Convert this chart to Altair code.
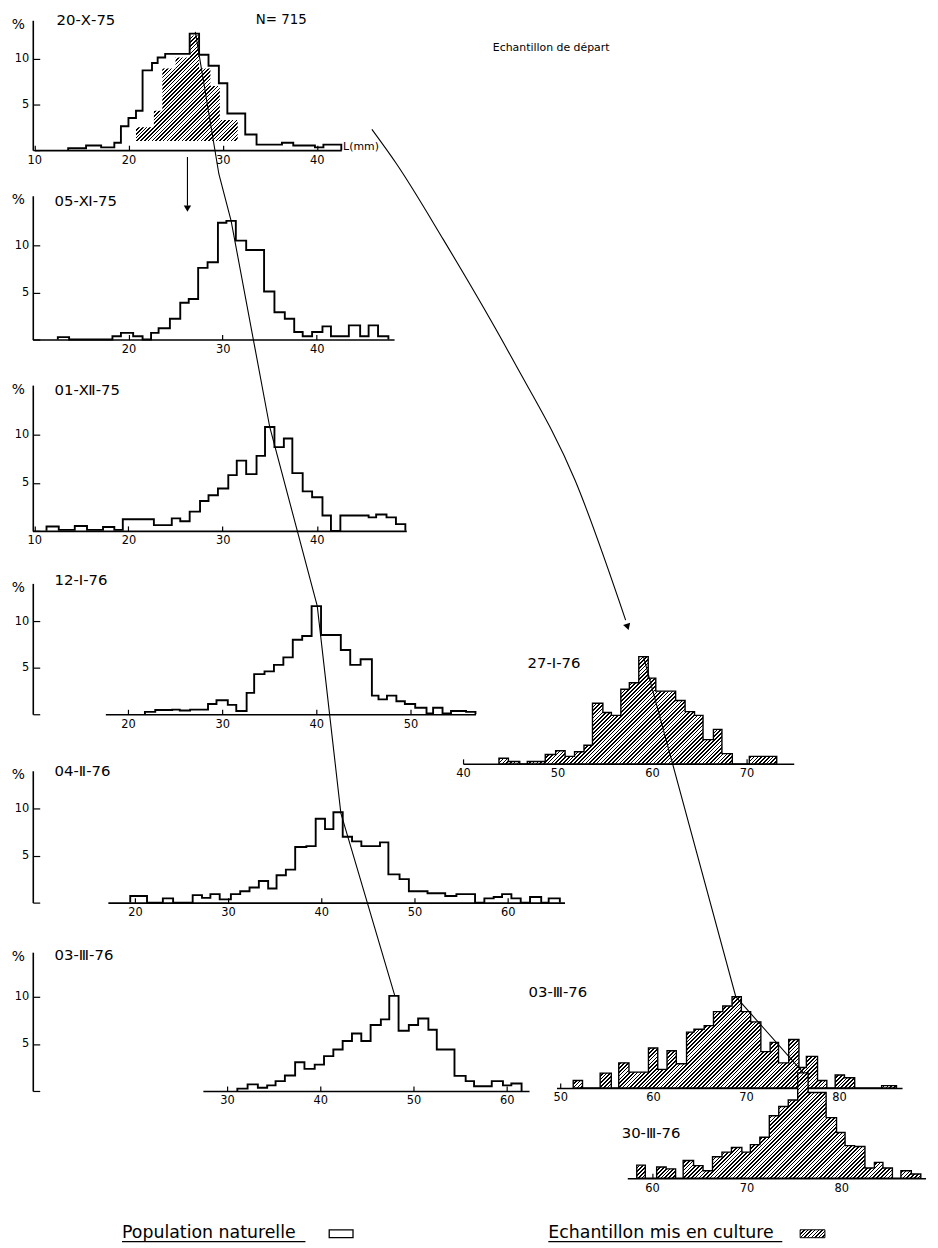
import math
import altair as alt
import pandas as pd

FONT = "DejaVu Sans"

# ---------------- data (L in mm, frequency in %) ----------------
# 20-X-75, population naturelle (N = 715)
oct20_edges = [13.6, 15.5, 17.1, 18.5, 19.2, 20.0, 20.8, 21.5, 22.5, 23.1, 23.9, 26.5, 27.5,
               28.5, 29.6, 30.5, 32.4, 33.6, 36.3, 37.5, 39.8, 40.7, 42.6]
oct20_pct = [0.2, 0.5, 0.3, 0.8, 2.6, 3.5, 4.3, 8.7, 9.5, 10.1, 10.5, 12.7, 10.4,
             9.2, 7.3, 4.0, 1.7, 0.6, 0.8, 0.5, 0.3, 0.6]
# 20-X-75, echantillon de depart (hatched block, drawn from 1 %)
start_edges = [20.8, 22.7, 23.6, 25.0, 26.5, 27.5, 28.7, 29.7, 31.6]
start_pct = [2.5, 4.3, 8.9, 10.1, 12.5, 8.9, 7.0, 3.3]
start_floor = 1.0

# 05-XI-75
nov05_edges = [12.5, 13.7, 18.3, 19.2, 20.5, 21.5, 22.4, 23.2, 24.4, 25.5, 26.4, 27.4, 28.4,
               29.5, 30.4, 31.4, 32.5, 34.4, 35.5, 36.6, 37.6, 38.5, 39.5, 40.6, 41.5, 43.4,
               44.6, 45.5, 46.5, 47.6]
nov05_pct = [0.25, 0, 0.35, 0.7, 0.35, 0, 0.7, 1.2, 2.2, 3.9, 4.3, 7.6, 8.2, 12.4, 12.6,
             10.5, 9.5, 5.1, 2.9, 2.2, 0.8, 0.35, 0.8, 1.4, 0.35, 1.5, 0.35, 1.5, 0.35]

# 01-XII-75
dec01_edges = [11.3, 12.6, 14.3, 15.6, 17.3, 18.5, 19.4, 22.7, 24.6, 25.5, 26.5, 27.6, 28.5,
               29.5, 30.6, 31.5, 32.5, 33.6, 34.5, 35.5, 36.5, 37.4, 38.5, 39.5, 40.6, 41.5,
               42.5, 45.5, 46.3, 47.4, 48.4, 49.4]
dec01_pct = [0.45, 0.1, 0.5, 0.1, 0.4, 0.1, 1.2, 0.6, 1.3, 1.0, 2.0, 3.1, 3.7, 4.4, 5.8,
             7.3, 5.9, 7.8, 10.8, 8.7, 9.6, 6.0, 4.1, 3.5, 1.6, 0, 1.6, 1.4, 1.7, 1.4, 0.7]

# 12-I-76
jan12_edges = [21.8, 22.9, 24.7, 25.5, 26.6, 28.5, 29.4, 30.6, 31.5, 32.6, 33.4, 34.5, 35.5,
               36.5, 37.5, 38.5, 39.5, 40.5, 42.6, 43.6, 44.7, 45.9, 46.6, 47.5, 48.5, 49.4,
               50.5, 51.7, 52.4, 53.4, 54.3, 55.9, 56.9]
jan12_pct = [0.25, 0.45, 0.5, 0.4, 0.5, 1.1, 1.5, 1.0, 0.35, 2.3, 4.3, 4.6, 5.3, 6.1, 8.0,
             8.4, 11.6, 8.5, 6.9, 5.3, 5.9, 2.0, 1.6, 2.0, 1.4, 1.1, 0.7, 0.1, 0.7, 0.1,
             0.35, 0.25]

# 04-II-76
feb04_edges = [19.5, 21.3, 23.0, 24.1, 26.2, 27.2, 28.1, 29.1, 30.3, 31.3, 32.3, 33.3, 34.3,
               35.2, 36.2, 37.2, 38.4, 39.4, 40.4, 41.3, 42.3, 43.3, 44.3, 46.3, 47.2, 48.4,
               49.4, 51.4, 53.3, 54.5, 56.5, 57.5, 58.5, 59.4, 60.4, 61.4, 62.4, 63.6, 64.4,
               65.6]
feb04_pct = [0.7, 0, 0.45, 0, 0.8, 0.5, 0.9, 0.35, 0.9, 1.2, 1.6, 2.3, 1.5, 2.9, 3.5, 5.9,
             6.0, 8.9, 7.8, 9.6, 7.0, 6.5, 6.0, 6.4, 3.0, 2.5, 1.2, 1.0, 0.7, 0.9, 0, 0.45,
             0.6, 0.9, 0.45, 0, 0.6, 0, 0.45]

# 03-III-76 (population naturelle)
mar03_edges = [31.1, 32.2, 33.3, 34.3, 35.2, 36.2, 37.3, 38.3, 39.4, 40.4, 41.4, 42.4, 43.4,
               44.4, 45.4, 46.5, 47.4, 48.4, 49.5, 50.5, 51.6, 52.5, 54.4, 55.6, 56.5, 58.4,
               59.6, 60.5, 61.6]
mar03_pct = [0.25, 0.7, 0.35, 0.6, 1.05, 1.65, 3.05, 2.35, 2.8, 3.7, 4.4, 5.3, 6.1, 5.3,
             7.0, 7.6, 10.1, 6.4, 7.0, 7.7, 6.5, 4.4, 1.6, 1.05, 0.5, 1.05, 0.6, 0.8]

# echantillon mis en culture
cjan27_edges = [43.8, 44.8, 46.0, 46.8, 48.7, 49.8, 50.8, 51.8, 52.8, 53.7, 54.8, 55.7, 56.7,
                57.6, 58.6, 59.6, 60.4, 62.5, 63.5, 64.5, 65.4, 66.5, 67.4, 68.5, 70.3, 73.2]
cjan27_pct = [0.6, 0.25, 0, 0.25, 1.0, 1.4, 0.8, 1.3, 2.0, 6.5, 5.5, 5.2, 8.0, 8.7, 11.5,
              9.2, 7.8, 6.8, 5.6, 5.2, 2.6, 3.7, 1.1, 0, 0.8]

cmar03_edges = [51.4, 52.4, 54.3, 55.5, 56.3, 57.4, 59.5, 60.5, 61.5, 62.5, 63.6, 64.4, 65.5,
                66.5, 67.5, 68.5, 69.5, 70.5, 71.6, 72.6, 73.5, 74.6, 75.7, 76.5, 77.7, 78.7,
                79.6, 80.6, 81.7, 84.6, 86.2]
cmar03_pct = [0.8, 0, 1.6, 0, 2.7, 1.7, 4.3, 2.0, 4.0, 2.6, 6.0, 6.3, 6.7, 8.2, 8.8, 9.8,
              8.2, 7.1, 3.9, 4.9, 2.7, 5.2, 2.2, 3.4, 0.8, 0, 1.4, 1.1, 0, 0.25]

cmar30_edges = [58.4, 59.3, 60.5, 61.5, 62.5, 63.3, 64.4, 65.4, 66.4, 67.4, 68.4, 69.5, 70.4,
                71.4, 72.4, 73.4, 74.4, 75.4, 76.5, 78.4, 79.5, 80.4, 81.4, 82.5, 83.5, 84.4,
                85.4, 86.3, 87.4, 88.4]
cmar30_pct = [1.4, 0, 1.2, 1.0, 0, 1.9, 1.35, 0.8, 2.3, 2.8, 3.3, 2.8, 3.6, 4.4, 6.7, 7.7,
              8.4, 11.3, 9.2, 6.5, 4.9, 3.5, 3.4, 1.1, 1.7, 1.1, 0, 0.8, 0.45]

# tick labels
ticks_p1 = [10, 20, 30, 40]
ticks_p2 = [20, 30, 40]
ticks_p3 = [10, 20, 30, 40]
ticks_p4 = [20, 30, 40, 50]
ticks_p5 = [20, 30, 40, 50, 60]
ticks_p6 = [30, 40, 50, 60]
ticks_rA = [40, 50, 60, 70]
ticks_rB = [50, 60, 70, 80]
ticks_rC = [60, 70, 80]
pct_ticks = [0, 5, 10]

dates = ["20-Ⅹ-75", "05-Ⅺ-75", "01-Ⅻ-75", "12-Ⅰ-76", "04-Ⅱ-76", "03-Ⅲ-76",
         "27-Ⅰ-76", "03-Ⅲ-76", "30-Ⅲ-76"]

# modal lines (panel, L mm, %)
growth_panel = ["p1", "p1", "p2", "p3", "p4", "p5", "p6"]
growth_mm = [27.1, 29.6, 30.9, 35.0, 40.1, 42.1, 48.0]
growth_pct = [12.9, -2.6, 12.6, 10.8, 11.6, 9.5, 10.1]
culture_panel = ["rA", "rB", "rC"]
culture_mm = [59.1, 68.9, 76.0]
culture_pct = [11.5, 9.8, 11.3]

# ---------------- layout (page pixels) ----------------
W, H = 930, 1240
MARGIN = 8


def P(v):
    return v - MARGIN


LAYOUT = {
    "p1": dict(xr=20, xp=129.5, pxmm=9.5, dom=(10.0, 42.6), base=146, pxpct=9.25, ytop=15, ticks=ticks_p1),
    "p2": dict(xr=20, xp=129.5, pxmm=9.5, dom=(9.8, 48.2), base=337, pxpct=9.5, ytop=192, ticks=ticks_p2),
    "p3": dict(xr=20, xp=129.5, pxmm=9.5, dom=(9.8, 49.5), base=530, pxpct=9.7, ytop=383, ticks=ticks_p3),
    "p4": dict(xr=20, xp=129.0, pxmm=9.5, dom=(17.6, 56.9), base=715, pxpct=9.4, ytop=583, ticks=ticks_p4),
    "p5": dict(xr=40, xp=324.0, pxmm=9.4, dom=(17.1, 66.1), base=905, pxpct=9.5, ytop=772, ticks=ticks_p5),
    "p6": dict(xr=40, xp=323.0, pxmm=9.4, dom=(27.4, 62.4), base=1095, pxpct=9.5, ytop=955, ticks=ticks_p6),
    "rA": dict(xr=40, xp=467.0, pxmm=9.53, dom=(40.0, 75.0), base=765, pxpct=9.4, ticks=ticks_rA),
    "rB": dict(xr=50, xp=565.0, pxmm=9.37, dom=(49.6, 86.8), base=1092, pxpct=9.4, ticks=ticks_rB),
    "rC": dict(xr=70, xp=753.0, pxmm=9.55, dom=(57.4, 88.9), base=1183, pxpct=9.4, ticks=ticks_rC),
}
YAXIS_X = 33


def px(k, mm):
    L = LAYOUT[k]
    return L["xp"] + L["pxmm"] * (mm - L["xr"])


def py(k, pct):
    L = LAYOUT[k]
    return L["base"] - L["pxpct"] * pct


def ymax(k):
    L = LAYOUT[k]
    return (L["base"] - L["ytop"]) / L["pxpct"] if "ytop" in L else 15.0


def xscale(k):
    d0, d1 = LAYOUT[k]["dom"]
    return alt.Scale(domain=[d0, d1], range=[P(px(k, d0)), P(px(k, d1))], nice=False, zero=False)


def yscale(k):
    m = ymax(k)
    return alt.Scale(domain=[0, m], range=[P(py(k, 0)), P(py(k, m))], nice=False, zero=False)


def xaxis(k):
    L = LAYOUT[k]
    return alt.Axis(orient="top", offset=-P(L["base"]), values=L["ticks"], format="d",
                    tickSize=5, tickWidth=1.2, tickColor="black",
                    domainWidth=1.6, domainColor="black",
                    labelPadding=-20, labelFontSize=11.5, labelFont=FONT, labelColor="black",
                    labelFlush=False, labelOverlap=False, labelBound=False, grid=False)


def yaxis(k):
    L = LAYOUT[k]
    return alt.Axis(orient="right", offset=P(YAXIS_X) - W, values=pct_ticks, format="d",
                    tickSize=7, tickWidth=1.2, tickColor="black",
                    domainWidth=1.6, domainColor="black",
                    labelPadding=-11, labelAlign="right", labelFontSize=11.5, labelFont=FONT,
                    labelColor="black", labelExpr="datum.value == 0 ? '' : datum.label",
                    labelFlush=False, labelOverlap=False, labelBound=False, grid=False,
                    title="%", titleAngle=0, titleX=-15, titleY=P(L["ytop"]) + 4,
                    titleAlign="center", titleBaseline="middle", titleFontSize=14,
                    titleFontWeight="normal", titleFont=FONT, titleColor="black")


def outline_df(edges, pct, floor=0.0):
    """vertices of the stepped outline (for a line mark, ordered by i)"""
    xs, ys = [edges[0]], [floor]
    for i, v in enumerate(pct):
        xs += [edges[i], edges[i + 1]]
        ys += [v, v]
    xs.append(edges[-1])
    ys.append(floor)
    return pd.DataFrame({"mm": xs, "pct": ys, "i": list(range(len(xs)))})


def step_df(edges, pct, floor=0.0):
    """one row per bin edge, for an area mark with step-after interpolation"""
    return pd.DataFrame({"mm": list(edges), "pct": list(pct) + [pct[-1]], "floor": floor})


def hatch(wpx, hpx, period=2.7, frac=0.42):
    n = max(1, int(round((wpx + hpx) / (math.sqrt(2) * period))))
    c = (1 / hpx + 1 / wpx) / (1 / hpx ** 2 + 1 / wpx ** 2)
    stops = []
    for j in range(n):
        a, b, e = j / n, (j + frac) / n, (j + 1) / n
        stops += [{"offset": round(a, 5), "color": "black"},
                  {"offset": round(b, 5), "color": "black"},
                  {"offset": round(b, 5), "color": "white"},
                  {"offset": round(e, 5), "color": "white"}]
    return {"gradient": "linear", "x1": 0, "y1": 0, "x2": c / hpx, "y2": c / wpx, "stops": stops}


layers = []

# hatched starting sample inside 20-X-75
k = "p1"
wpx = (start_edges[-1] - start_edges[0]) * LAYOUT[k]["pxmm"]
hpx = (max(start_pct) - start_floor) * LAYOUT[k]["pxpct"]
layers.append(
    alt.Chart(step_df(start_edges, start_pct, start_floor)).mark_area(
        fill=hatch(wpx, hpx), strokeWidth=0, interpolate="step-after").encode(
        x=alt.X("mm:Q", scale=xscale(k), axis=None),
        y=alt.Y("pct:Q", scale=yscale(k), axis=None),
        y2="floor:Q")
)

left = [("p1", oct20_edges, oct20_pct), ("p2", nov05_edges, nov05_pct),
        ("p3", dec01_edges, dec01_pct), ("p4", jan12_edges, jan12_pct),
        ("p5", feb04_edges, feb04_pct), ("p6", mar03_edges, mar03_pct)]
for k, e, v in left:
    layers.append(
        alt.Chart(outline_df(e, v)).mark_line(color="black", strokeWidth=1.9, strokeJoin="miter").encode(
            x=alt.X("mm:Q", scale=xscale(k), axis=xaxis(k), title=None),
            y=alt.Y("pct:Q", scale=yscale(k), axis=yaxis(k)),
            order="i:Q")
    )

right = [("rA", cjan27_edges, cjan27_pct), ("rB", cmar03_edges, cmar03_pct),
         ("rC", cmar30_edges, cmar30_pct)]
for k, e, v in right:
    wpx = (e[-1] - e[0]) * LAYOUT[k]["pxmm"]
    hpx = max(v) * LAYOUT[k]["pxpct"]
    layers.append(
        alt.Chart(step_df(e, v)).mark_area(
            fill=hatch(wpx, hpx), stroke="black", strokeWidth=1.4, strokeJoin="miter",
            interpolate="step-after").encode(
            x=alt.X("mm:Q", scale=xscale(k), axis=xaxis(k), title=None),
            y=alt.Y("pct:Q", scale=yscale(k), axis=None),
            y2="floor:Q")
    )

# ---------------- connectors and arrows ----------------
rows = []
for n, (k, mm, pc) in enumerate(zip(growth_panel, growth_mm, growth_pct)):
    rows.append(dict(id="growth", i=n, x=P(px(k, mm)), y=P(py(k, pc))))
for n, (k, mm, pc) in enumerate(zip(culture_panel, culture_mm, culture_pct)):
    rows.append(dict(id="culture", i=n, x=P(px(k, mm)), y=P(py(k, pc))))
rows.append(dict(id="drop", i=0, x=P(189), y=P(153)))
rows.append(dict(id="drop", i=1, x=P(189), y=P(202)))
conn = pd.DataFrame(rows)

layers.append(
    alt.Chart(conn).mark_line(color="black", strokeWidth=1.1).encode(
        x=alt.X("x:Q", scale=None, axis=None),
        y=alt.Y("y:Q", scale=None, axis=None),
        detail="id:N", order="i:Q")
)

curve_x = [375, 400, 447, 517, 580, 631]
curve_y = [125, 160, 236, 357, 479, 620]
curve = pd.DataFrame({"x": [P(v) for v in curve_x], "y": [P(v) for v in curve_y],
                      "i": list(range(len(curve_x)))})
layers.append(
    alt.Chart(curve).mark_line(color="black", strokeWidth=1.1, interpolate="monotone").encode(
        x=alt.X("x:Q", scale=None, axis=None),
        y=alt.Y("y:Q", scale=None, axis=None),
        order="i:Q")
)

heads = pd.DataFrame({"x": [P(189), P(633)], "y": [P(205), P(627)], "a": [0, 342]})
layers.append(
    alt.Chart(heads).mark_point(shape="triangle-down", filled=True, color="black",
                                opacity=1, size=55).encode(
        x=alt.X("x:Q", scale=None, axis=None),
        y=alt.Y("y:Q", scale=None, axis=None),
        angle=alt.Angle("a:Q", scale=None))
)

# ---------------- texts ----------------
txt = pd.DataFrame({
    "text": dates + ["N= 715", "Echantillon de départ", "L(mm)",
                     "Population naturelle", "Echantillon mis en culture"],
    "x": [P(v) for v in [57, 55, 55, 55, 55, 55, 532, 533, 627, 258, 497, 346, 123, 553]],
    "y": [P(v) for v in [15, 197, 388, 580, 772, 958, 663, 995, 1137, 15, 43, 143, 1238, 1238]],
    "s": [15, 15, 15, 15, 15, 15, 15, 15, 15, 13.5, 11, 11, 17.5, 17.5],
})
layers.append(
    alt.Chart(txt).mark_text(align="left", baseline="middle", font=FONT, color="black").encode(
        x=alt.X("x:Q", scale=None, axis=None),
        y=alt.Y("y:Q", scale=None, axis=None),
        size=alt.Size("s:Q", scale=None, legend=None),
        text="text:N")
)

one = pd.DataFrame({"a": [0]})
for x0, x1 in [(123, 308), (553, 789)]:
    layers.append(alt.Chart(one).mark_rule(color="black", strokeWidth=1.3).encode(
        x=alt.value(P(x0)), x2=alt.value(P(x1)), y=alt.value(P(1247))))
layers.append(alt.Chart(one).mark_rect(fill="white", stroke="black", strokeWidth=1.3).encode(
    x=alt.value(P(332)), x2=alt.value(P(356)), y=alt.value(P(1235)), y2=alt.value(P(1243))))
layers.append(alt.Chart(one).mark_rect(fill=hatch(25, 8), stroke="black", strokeWidth=1.0).encode(
    x=alt.value(P(807)), x2=alt.value(P(832)), y=alt.value(P(1235)), y2=alt.value(P(1243))))

chart = alt.layer(*layers).resolve_scale(x="independent", y="independent").properties(
    width=W, height=H, autosize=alt.AutoSizeParams(type="none"), padding=0
).configure_view(stroke=None)

chart.save("out.html", embed_options={"renderer": "svg", "actions": False})
